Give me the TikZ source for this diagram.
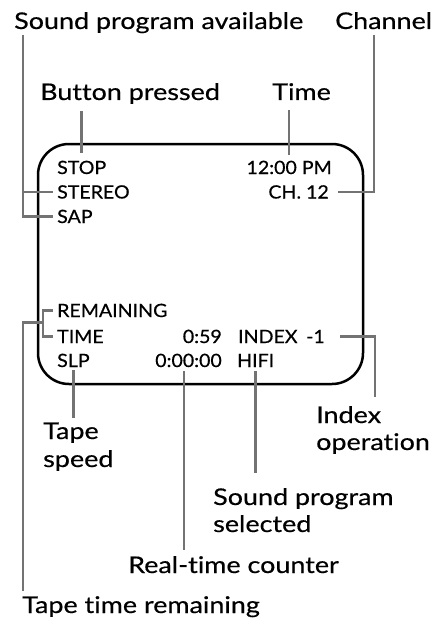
\documentclass[tikz,border=0pt]{standalone}
\usepackage{fontspec}
\setmainfont{Lato}
\newfontfamily\lblfont[FakeStretch=1.17, FakeBold=0.45, Ligatures=NoCommon]{Lato}
\newfontfamily\scrfont[FakeStretch=1.07, FakeBold=0.5, Ligatures=NoCommon]{Lato}
\usetikzlibrary{calc}
\begin{document}
\begin{tikzpicture}[x=1pt,y=-1pt,
  lbl/.style={font=\lblfont\fontsize{23}{27}\selectfont, inner sep=0pt, anchor=base west},
  scr/.style={font=\scrfont\fontsize{18.3}{22}\selectfont, inner sep=0pt, anchor=base west, text height=13pt, text depth=0pt},
  scre/.style={scr, anchor=base east},
  leader/.style={draw=black!55, line width=2.6pt},
  screen/.style={draw=black, line width=2.5pt, rounded corners=31pt}]
\useasboundingbox (0,0) rectangle (438,623);
% screen
\draw[screen] (38,144) rectangle (363,384);
% labels
\node[lbl] (spa) at (14,29) {Sound program available};
\node[lbl] (chan) at (335,29) {Channel};
\node[lbl] (bp) at (40,100) {Button pressed};
\node[lbl] (time) at (272,100) {Time};
\node[lbl] (ts1) at (43,439) {Tape};
\node[lbl] (ts2) at (43,467) {speed};
\node[lbl] (io1) at (316,423) {Index};
\node[lbl] (io2) at (316,450) {operation};
\node[lbl] (sps1) at (213,505) {Sound program};
\node[lbl] (sps2) at (213,532) {selected};
\node[lbl] (rtc) at (128,573) {Real-time counter};
\node[lbl] (ttr) at (22,613) {Tape time remaining};
% screen texts
\node[scr] (stop) at (57,174) {STOP};
\node[scr] (stereo) at (57,198.5) {STEREO};
\node[scr] (sap) at (57,223) {SAP};
\node[scre] (clock) at (332,174) {12:00 PM};
\node[scre] (ch) at (329,198.5) {CH. 12};
\node[scr] (rem) at (57,317) {REMAINING};
\node[scr] (ttime) at (57,343) {TIME};
\node[scre] (left) at (222,343) {0:59};
\node[scr] (idx) at (238,343) {INDEX};
\node[scre] (idxval) at (325,343) {-1};
\node[scr] (slp) at (57,367) {SLP};
\node[scre] (ctr) at (222,367) {0:00:00};
\node[scr] (hifi) at (237,367) {HIFI};
% leader coordinates
\coordinate (spaL) at ([xshift=9pt,yshift=-6pt]spa.base west);
\coordinate (chL) at ([xshift=39pt,yshift=-6pt]chan.base west);
\coordinate (bpB) at ([yshift=-11pt]bp.base);
\coordinate (timeB) at ([yshift=-10pt]time.base);
\coordinate (ioT) at ([xshift=59pt,yshift=26pt]io1.base west);
\coordinate (ttrT) at ([xshift=1pt,yshift=22pt]ttr.base west);
\coordinate (tsT) at ([yshift=21pt]ts1.base);
\coordinate (rtcT) at ([xshift=56pt,yshift=23pt]rtc.base west);
\coordinate (spsT) at ([yshift=32pt]sps1.base);
% leaders
\draw[leader] (spaL) |- ([xshift=-4pt]sap.west);
\draw[leader] (spaL |- stereo.west) -- ([xshift=-4pt]stereo.west);
\draw[leader] (chL) |- ([xshift=9pt]ch.east);
\draw[leader] (stop.north |- bpB) -- ([yshift=8pt]stop.north);
\draw[leader] (clock.north |- timeB) -- ([yshift=6pt]clock.north);
\draw[leader] ([xshift=15pt]idxval.east) -| (ioT);
\draw[leader] ([xshift=-4pt]rem.west) -- ++(-10,0) |- ([xshift=-4pt]ttime.west);
\draw[leader] (ttrT) |- ($(rem.west)!0.45!(ttime.west)+(-14,0)$);
\draw[leader] ([yshift=-3pt]slp.south) -- (slp.south |- tsT);
\draw[leader] ([yshift=-4pt]rtcT |- ctr.south) -- (rtcT);
\draw[leader] ([yshift=-4pt]hifi.south) -- (hifi.south |- spsT);
\end{tikzpicture}
\end{document}
